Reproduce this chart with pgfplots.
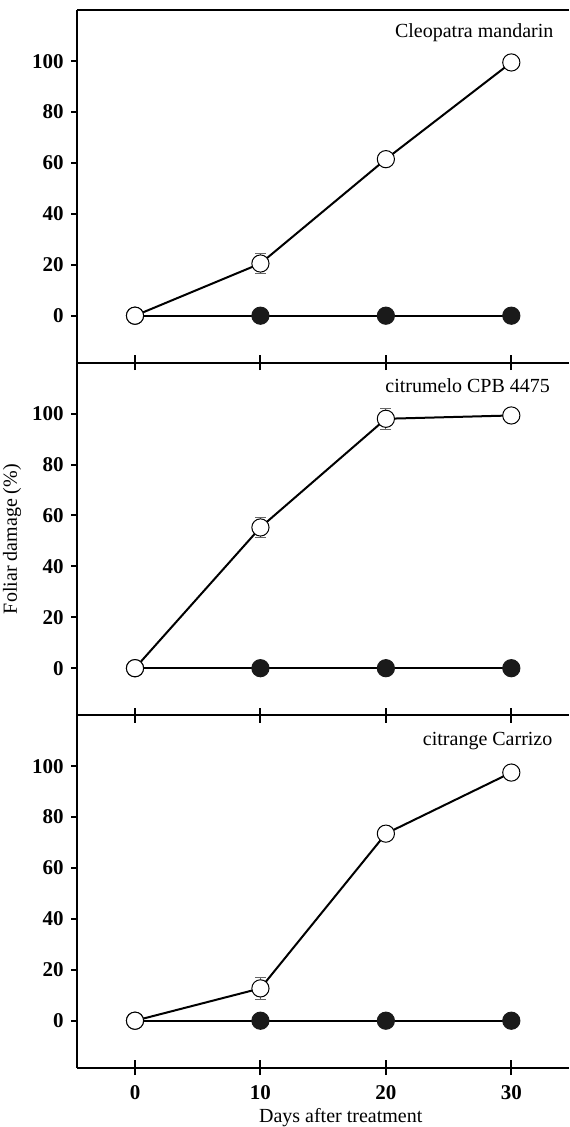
\documentclass[border=0pt]{standalone}
\usepackage{fontspec}
\setmainfont{Liberation Serif}
\usepackage{pgfplots}
\pgfplotsset{compat=1.18}

\definecolor{dot}{HTML}{1A1A1A}

\pgfplotsset{
  panel/.style={
    scale only axis,
    width=245.85pt, height=176.25pt,
    xmin=-4.6, xmax=34.6, ymin=-18.5, ymax=120,
    axis x line*=bottom, axis y line*=left,
    axis line style={-, line width=1pt},
    xtick={0,10,20,30}, ytick={0,20,40,60,80,100},
    xtick align=center, ytick align=outside,
    xtick style={line width=1pt, black, /pgfplots/major tick length=7.3pt},
    ytick style={line width=1pt, black, /pgfplots/major tick length=3pt},
    /pgf/number format/assume math mode=true,
    tick label style={font=\fontsize{10.5}{12}\selectfont\bfseries},
    yticklabel style={xshift=1pt},
    xticklabel style={yshift=-3.3pt},
    clip=false,
  },
  open/.style={line width=1pt, black, mark=*, mark size=4.3pt,
    mark options={fill=white, line width=0.5pt},
    error bars/.cd, y dir=both, y explicit,
    error bar style={line width=0.5pt, gray!80!black},
    error mark options={rotate=90, mark size=2.7pt, line width=0.5pt}},
  closed/.style={line width=1pt, black, mark=*, mark size=4.3pt,
    mark options={fill=dot, draw=dot, line width=0.5pt}},
}

\begin{document}
\begin{tikzpicture}
\useasboundingbox (0,0) rectangle (284.5pt,563.5pt);

% top panel
\begin{axis}[panel, at={(38.65pt,382.1pt)}, anchor=south west, xticklabels={}]
\draw[line width=1pt] (rel axis cs:0,1) -- (rel axis cs:1,1);
\addplot[closed] coordinates {(0,0) (10,0) (20,0) (30,0)};
\addplot[open] coordinates {(0,0) +- (0,0) (10,20.5) +- (0,3.8) (20,61.5) +- (0,1) (30,99.5) +- (0,2.5)};
\node[anchor=base east, font=\fontsize{10}{12}\selectfont] at ([xshift=-4.3pt,yshift=-13.5pt]rel axis cs:1,1) {Cleopatra mandarin};
\end{axis}

% middle panel
\begin{axis}[panel, at={(38.65pt,205.85pt)}, anchor=south west, xticklabels={},
  ylabel={Foliar damage (\%)},
  ylabel style={at={([xshift=-32.6pt]axis description cs:0,0.5)}, anchor=center,
    font=\fontsize{10}{12}\selectfont}]
\addplot[closed] coordinates {(0,0) (10,0) (20,0) (30,0)};
\addplot[open] coordinates {(0,0) +- (0,0) (10,55.3) +- (0,4) (20,98) +- (0,4.2) (30,99.3) +- (0,1)};
\node[anchor=base east, font=\fontsize{10}{12}\selectfont] at ([xshift=-6pt,yshift=-15pt]rel axis cs:1,1) {citrumelo CPB 4475};
\end{axis}

% bottom panel
\begin{axis}[panel, at={(38.65pt,29.6pt)}, anchor=south west,
  xlabel={Days after treatment},
  xlabel style={at={([yshift=-25pt]axis cs:16.4,-18.5)}, anchor=center,
    font=\fontsize{10}{12}\selectfont}]
\addplot[closed] coordinates {(0,0) (10,0) (20,0) (30,0)};
\addplot[open] coordinates {(0,0) +- (0,0) (10,12.7) +- (0,4.2) (20,73.5) +- (0,2.5) (30,97.5) +- (0,1)};
\node[anchor=base east, font=\fontsize{10}{12}\selectfont] at ([xshift=-4.8pt,yshift=-15pt]rel axis cs:1,1) {citrange Carrizo};
\end{axis}
\end{tikzpicture}
\end{document}
